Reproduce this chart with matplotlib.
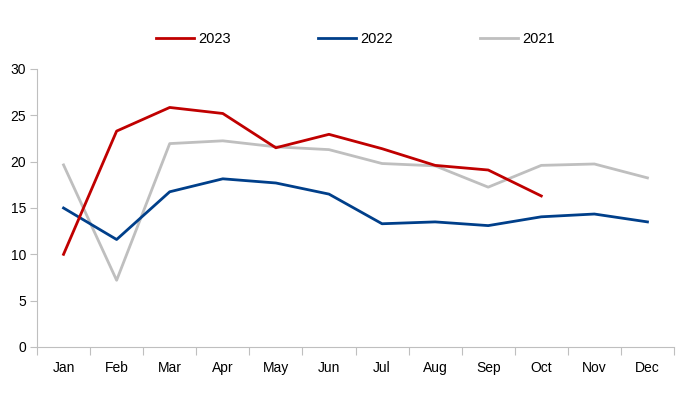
import numpy as np
import matplotlib.pyplot as plt

plt.rcParams['font.family'] = ['Liberation Sans', 'DejaVu Sans']

months = ['Jan', 'Feb', 'Mar', 'Apr', 'May', 'Jun', 'Jul', 'Aug', 'Sep', 'Oct', 'Nov', 'Dec']
y2023 = [10.0, 23.3, 25.85, 25.2, 21.5, 22.95, 21.4, 19.6, 19.1, 16.3]
y2022 = [15.0, 11.6, 16.75, 18.15, 17.7, 16.5, 13.3, 13.5, 13.1, 14.05, 14.35, 13.5]
y2021 = [19.65, 7.2, 21.95, 22.25, 21.6, 21.3, 19.8, 19.55, 17.25, 19.6, 19.75, 18.25]

fig = plt.figure(figsize=(6.89, 3.98), dpi=100)
ax = fig.add_axes([37/689, 1-347/398, (674-37)/689, (347-69)/398])

x = np.arange(len(months))
ax.plot(x[:len(y2023)], y2023, color='#c00000', lw=2, label='2023', zorder=4)
ax.plot(x, y2022, color='#003f8a', lw=2, label='2022', zorder=3)
ax.plot(x, y2021, color='#bfbfbf', lw=2, label='2021', zorder=2)

ax.set_xlim(-0.5, 11.5)
ax.set_ylim(0, 30)
ax.set_yticks(range(0, 31, 5))
# boundary ticks as major, month names centred as minor
ax.set_xticks(np.arange(-0.5, 12, 1))
ax.set_xticklabels([])
ax.set_xticks(x, minor=True)
ax.set_xticklabels(months, minor=True)
ax.tick_params(axis='x', which='major', length=6, color='#bfbfbf', direction='out')
ax.tick_params(axis='x', which='minor', length=0, pad=10, labelsize=10)
ax.tick_params(axis='y', length=5, color='#bfbfbf', labelsize=10, pad=3)

for s in ['top', 'right']:
    ax.spines[s].set_visible(False)
for s in ['left', 'bottom']:
    ax.spines[s].set_color('#bfbfbf')

ax.legend(loc='center', bbox_to_anchor=(0.5, 1.0 + (69-39)/278), ncol=3, frameon=False,
          fontsize=10.5, handlelength=2.6, handletextpad=0.3, columnspacing=5.95)

plt.savefig('out.png', dpi=100)
